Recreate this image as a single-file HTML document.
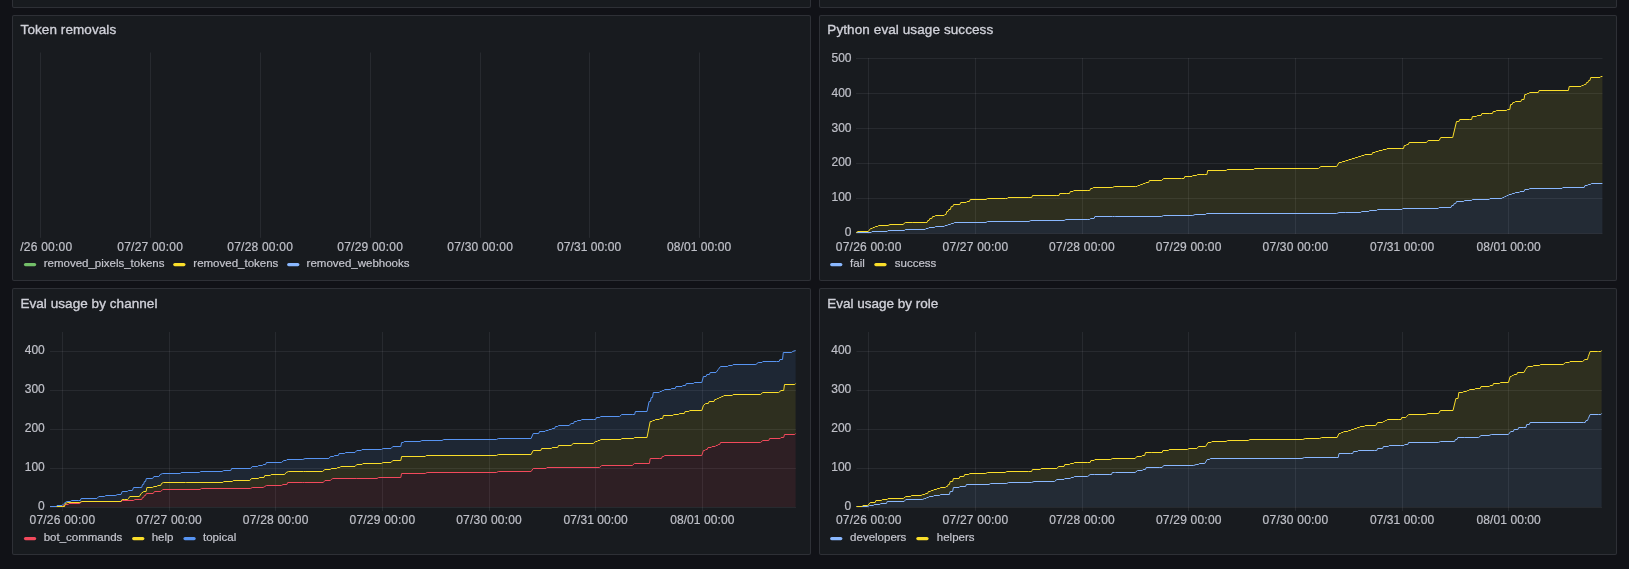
<!DOCTYPE html>
<html><head><meta charset="utf-8"><title>Grafana</title>
<style>
html,body{margin:0;padding:0;}
body{width:1629px;height:569px;overflow:hidden;background:#111217;position:relative;font-family:"Liberation Sans",sans-serif;}
.p{position:absolute;box-sizing:border-box;background:#181b1f;border:1px solid rgba(204,204,220,0.12);border-radius:2px;}
svg{position:absolute;left:0;top:0;will-change:transform;}
svg text{font-family:"Liberation Sans",sans-serif;}
</style></head><body>
<div class="p" style="left:12px;top:-100px;width:799px;height:108px"></div>
<div class="p" style="left:819px;top:-100px;width:798px;height:108px"></div>
<div class="p" style="left:12px;top:15px;width:799px;height:266px"></div>
<div class="p" style="left:819px;top:15px;width:798px;height:266px"></div>
<div class="p" style="left:12px;top:288px;width:799px;height:267px"></div>
<div class="p" style="left:819px;top:288px;width:798px;height:267px"></div>
<svg width="1629" height="569" viewBox="0 0 1629 569">
<defs><clipPath id="tlc"><rect x="21" y="0" width="780" height="569"/></clipPath></defs>

<text x="20.6" y="34" fill="#d0d1d9" stroke="#d0d1d9" stroke-width="0.35" font-size="13.5" textLength="95.6" lengthAdjust="spacing">Token removals</text>
<text x="827.3" y="34" fill="#d0d1d9" stroke="#d0d1d9" stroke-width="0.35" font-size="13.5" textLength="165.9" lengthAdjust="spacing">Python eval usage success</text>
<text x="20.4" y="307.9" fill="#d0d1d9" stroke="#d0d1d9" stroke-width="0.35" font-size="13.5" textLength="137" lengthAdjust="spacing">Eval usage by channel</text>
<text x="827.3" y="307.9" fill="#d0d1d9" stroke="#d0d1d9" stroke-width="0.35" font-size="13.5" textLength="110.9" lengthAdjust="spacing">Eval usage by role</text>
<line x1="40.5" y1="52.5" x2="40.5" y2="237.8" stroke="rgba(204,204,220,0.085)" stroke-width="1"/>
<line x1="150.5" y1="52.5" x2="150.5" y2="237.8" stroke="rgba(204,204,220,0.085)" stroke-width="1"/>
<line x1="260.5" y1="52.5" x2="260.5" y2="237.8" stroke="rgba(204,204,220,0.085)" stroke-width="1"/>
<line x1="370.5" y1="52.5" x2="370.5" y2="237.8" stroke="rgba(204,204,220,0.085)" stroke-width="1"/>
<line x1="480.5" y1="52.5" x2="480.5" y2="237.8" stroke="rgba(204,204,220,0.085)" stroke-width="1"/>
<line x1="589.5" y1="52.5" x2="589.5" y2="237.8" stroke="rgba(204,204,220,0.085)" stroke-width="1"/>
<line x1="699.5" y1="52.5" x2="699.5" y2="237.8" stroke="rgba(204,204,220,0.085)" stroke-width="1"/>
<g clip-path="url(#tlc)">
<text x="150.1" y="250.5" fill="#bfc0c8" stroke="#bfc0c8" stroke-width="0.2" font-size="12" text-anchor="middle" textLength="65.6" lengthAdjust="spacing">07/27 00:00</text>
<text x="260.1" y="250.5" fill="#bfc0c8" stroke="#bfc0c8" stroke-width="0.2" font-size="12" text-anchor="middle" textLength="65.6" lengthAdjust="spacing">07/28 00:00</text>
<text x="370.1" y="250.5" fill="#bfc0c8" stroke="#bfc0c8" stroke-width="0.2" font-size="12" text-anchor="middle" textLength="65.6" lengthAdjust="spacing">07/29 00:00</text>
<text x="480.1" y="250.5" fill="#bfc0c8" stroke="#bfc0c8" stroke-width="0.2" font-size="12" text-anchor="middle" textLength="65.6" lengthAdjust="spacing">07/30 00:00</text>
<text x="589.1" y="250.5" fill="#bfc0c8" stroke="#bfc0c8" stroke-width="0.2" font-size="12" text-anchor="middle" textLength="64.2" lengthAdjust="spacing">07/31 00:00</text>
<text x="699.1" y="250.5" fill="#bfc0c8" stroke="#bfc0c8" stroke-width="0.2" font-size="12" text-anchor="middle" textLength="64.2" lengthAdjust="spacing">08/01 00:00</text>
</g>
<text x="20.2" y="250.5" fill="#bfc0c8" stroke="#bfc0c8" stroke-width="0.2" font-size="12" textLength="52" lengthAdjust="spacing">/26 00:00</text>
<line x1="856" y1="233.5" x2="1602.5" y2="233.5" stroke="rgba(204,204,220,0.085)" stroke-width="1"/>
<line x1="856" y1="198.5" x2="1602.5" y2="198.5" stroke="rgba(204,204,220,0.085)" stroke-width="1"/>
<line x1="856" y1="163.5" x2="1602.5" y2="163.5" stroke="rgba(204,204,220,0.085)" stroke-width="1"/>
<line x1="856" y1="128.5" x2="1602.5" y2="128.5" stroke="rgba(204,204,220,0.085)" stroke-width="1"/>
<line x1="856" y1="93.5" x2="1602.5" y2="93.5" stroke="rgba(204,204,220,0.085)" stroke-width="1"/>
<line x1="856" y1="58.5" x2="1602.5" y2="58.5" stroke="rgba(204,204,220,0.085)" stroke-width="1"/>
<line x1="868.5" y1="58" x2="868.5" y2="234" stroke="rgba(204,204,220,0.085)" stroke-width="1"/>
<line x1="975.5" y1="58" x2="975.5" y2="234" stroke="rgba(204,204,220,0.085)" stroke-width="1"/>
<line x1="1082.5" y1="58" x2="1082.5" y2="234" stroke="rgba(204,204,220,0.085)" stroke-width="1"/>
<line x1="1188.5" y1="58" x2="1188.5" y2="234" stroke="rgba(204,204,220,0.085)" stroke-width="1"/>
<line x1="1295.5" y1="58" x2="1295.5" y2="234" stroke="rgba(204,204,220,0.085)" stroke-width="1"/>
<line x1="1402.5" y1="58" x2="1402.5" y2="234" stroke="rgba(204,204,220,0.085)" stroke-width="1"/>
<line x1="1508.5" y1="58" x2="1508.5" y2="234" stroke="rgba(204,204,220,0.085)" stroke-width="1"/>
<g>
<text x="868.6" y="250.5" fill="#bfc0c8" stroke="#bfc0c8" stroke-width="0.2" font-size="12" text-anchor="middle" textLength="65.6" lengthAdjust="spacing">07/26 00:00</text>
<text x="975.3" y="250.5" fill="#bfc0c8" stroke="#bfc0c8" stroke-width="0.2" font-size="12" text-anchor="middle" textLength="65.6" lengthAdjust="spacing">07/27 00:00</text>
<text x="1081.9" y="250.5" fill="#bfc0c8" stroke="#bfc0c8" stroke-width="0.2" font-size="12" text-anchor="middle" textLength="65.6" lengthAdjust="spacing">07/28 00:00</text>
<text x="1188.6" y="250.5" fill="#bfc0c8" stroke="#bfc0c8" stroke-width="0.2" font-size="12" text-anchor="middle" textLength="65.6" lengthAdjust="spacing">07/29 00:00</text>
<text x="1295.3" y="250.5" fill="#bfc0c8" stroke="#bfc0c8" stroke-width="0.2" font-size="12" text-anchor="middle" textLength="65.6" lengthAdjust="spacing">07/30 00:00</text>
<text x="1402" y="250.5" fill="#bfc0c8" stroke="#bfc0c8" stroke-width="0.2" font-size="12" text-anchor="middle" textLength="64.2" lengthAdjust="spacing">07/31 00:00</text>
<text x="1508.6" y="250.5" fill="#bfc0c8" stroke="#bfc0c8" stroke-width="0.2" font-size="12" text-anchor="middle" textLength="64.2" lengthAdjust="spacing">08/01 00:00</text>
</g>
<text x="851.5" y="236.2" fill="#bfc0c8" stroke="#bfc0c8" stroke-width="0.2" font-size="12" text-anchor="end">0</text>
<text x="851.5" y="201.3" fill="#bfc0c8" stroke="#bfc0c8" stroke-width="0.2" font-size="12" text-anchor="end">100</text>
<text x="851.5" y="166.4" fill="#bfc0c8" stroke="#bfc0c8" stroke-width="0.2" font-size="12" text-anchor="end">200</text>
<text x="851.5" y="131.5" fill="#bfc0c8" stroke="#bfc0c8" stroke-width="0.2" font-size="12" text-anchor="end">300</text>
<text x="851.5" y="96.6" fill="#bfc0c8" stroke="#bfc0c8" stroke-width="0.2" font-size="12" text-anchor="end">400</text>
<text x="851.5" y="61.7" fill="#bfc0c8" stroke="#bfc0c8" stroke-width="0.2" font-size="12" text-anchor="end">500</text>
<line x1="50" y1="507.5" x2="796" y2="507.5" stroke="rgba(204,204,220,0.085)" stroke-width="1"/>
<line x1="50" y1="468.5" x2="796" y2="468.5" stroke="rgba(204,204,220,0.085)" stroke-width="1"/>
<line x1="50" y1="429.5" x2="796" y2="429.5" stroke="rgba(204,204,220,0.085)" stroke-width="1"/>
<line x1="50" y1="390.5" x2="796" y2="390.5" stroke="rgba(204,204,220,0.085)" stroke-width="1"/>
<line x1="50" y1="351.5" x2="796" y2="351.5" stroke="rgba(204,204,220,0.085)" stroke-width="1"/>
<line x1="62.5" y1="332" x2="62.5" y2="511" stroke="rgba(204,204,220,0.085)" stroke-width="1"/>
<line x1="169.5" y1="332" x2="169.5" y2="511" stroke="rgba(204,204,220,0.085)" stroke-width="1"/>
<line x1="275.5" y1="332" x2="275.5" y2="511" stroke="rgba(204,204,220,0.085)" stroke-width="1"/>
<line x1="382.5" y1="332" x2="382.5" y2="511" stroke="rgba(204,204,220,0.085)" stroke-width="1"/>
<line x1="489.5" y1="332" x2="489.5" y2="511" stroke="rgba(204,204,220,0.085)" stroke-width="1"/>
<line x1="595.5" y1="332" x2="595.5" y2="511" stroke="rgba(204,204,220,0.085)" stroke-width="1"/>
<line x1="702.5" y1="332" x2="702.5" y2="511" stroke="rgba(204,204,220,0.085)" stroke-width="1"/>
<g>
<text x="62.3" y="524.3" fill="#bfc0c8" stroke="#bfc0c8" stroke-width="0.2" font-size="12" text-anchor="middle" textLength="65.6" lengthAdjust="spacing">07/26 00:00</text>
<text x="169" y="524.3" fill="#bfc0c8" stroke="#bfc0c8" stroke-width="0.2" font-size="12" text-anchor="middle" textLength="65.6" lengthAdjust="spacing">07/27 00:00</text>
<text x="275.6" y="524.3" fill="#bfc0c8" stroke="#bfc0c8" stroke-width="0.2" font-size="12" text-anchor="middle" textLength="65.6" lengthAdjust="spacing">07/28 00:00</text>
<text x="382.3" y="524.3" fill="#bfc0c8" stroke="#bfc0c8" stroke-width="0.2" font-size="12" text-anchor="middle" textLength="65.6" lengthAdjust="spacing">07/29 00:00</text>
<text x="489" y="524.3" fill="#bfc0c8" stroke="#bfc0c8" stroke-width="0.2" font-size="12" text-anchor="middle" textLength="65.6" lengthAdjust="spacing">07/30 00:00</text>
<text x="595.6" y="524.3" fill="#bfc0c8" stroke="#bfc0c8" stroke-width="0.2" font-size="12" text-anchor="middle" textLength="64.2" lengthAdjust="spacing">07/31 00:00</text>
<text x="702.3" y="524.3" fill="#bfc0c8" stroke="#bfc0c8" stroke-width="0.2" font-size="12" text-anchor="middle" textLength="64.2" lengthAdjust="spacing">08/01 00:00</text>
</g>
<text x="44.8" y="510" fill="#bfc0c8" stroke="#bfc0c8" stroke-width="0.2" font-size="12" text-anchor="end">0</text>
<text x="44.8" y="471.1" fill="#bfc0c8" stroke="#bfc0c8" stroke-width="0.2" font-size="12" text-anchor="end">100</text>
<text x="44.8" y="432.2" fill="#bfc0c8" stroke="#bfc0c8" stroke-width="0.2" font-size="12" text-anchor="end">200</text>
<text x="44.8" y="393.3" fill="#bfc0c8" stroke="#bfc0c8" stroke-width="0.2" font-size="12" text-anchor="end">300</text>
<text x="44.8" y="354.4" fill="#bfc0c8" stroke="#bfc0c8" stroke-width="0.2" font-size="12" text-anchor="end">400</text>
<line x1="856.5" y1="507.5" x2="1602" y2="507.5" stroke="rgba(204,204,220,0.085)" stroke-width="1"/>
<line x1="856.5" y1="468.5" x2="1602" y2="468.5" stroke="rgba(204,204,220,0.085)" stroke-width="1"/>
<line x1="856.5" y1="429.5" x2="1602" y2="429.5" stroke="rgba(204,204,220,0.085)" stroke-width="1"/>
<line x1="856.5" y1="390.5" x2="1602" y2="390.5" stroke="rgba(204,204,220,0.085)" stroke-width="1"/>
<line x1="856.5" y1="351.5" x2="1602" y2="351.5" stroke="rgba(204,204,220,0.085)" stroke-width="1"/>
<line x1="868.5" y1="332" x2="868.5" y2="511" stroke="rgba(204,204,220,0.085)" stroke-width="1"/>
<line x1="975.5" y1="332" x2="975.5" y2="511" stroke="rgba(204,204,220,0.085)" stroke-width="1"/>
<line x1="1082.5" y1="332" x2="1082.5" y2="511" stroke="rgba(204,204,220,0.085)" stroke-width="1"/>
<line x1="1188.5" y1="332" x2="1188.5" y2="511" stroke="rgba(204,204,220,0.085)" stroke-width="1"/>
<line x1="1295.5" y1="332" x2="1295.5" y2="511" stroke="rgba(204,204,220,0.085)" stroke-width="1"/>
<line x1="1402.5" y1="332" x2="1402.5" y2="511" stroke="rgba(204,204,220,0.085)" stroke-width="1"/>
<line x1="1508.5" y1="332" x2="1508.5" y2="511" stroke="rgba(204,204,220,0.085)" stroke-width="1"/>
<g>
<text x="868.7" y="524.3" fill="#bfc0c8" stroke="#bfc0c8" stroke-width="0.2" font-size="12" text-anchor="middle" textLength="65.6" lengthAdjust="spacing">07/26 00:00</text>
<text x="975.4" y="524.3" fill="#bfc0c8" stroke="#bfc0c8" stroke-width="0.2" font-size="12" text-anchor="middle" textLength="65.6" lengthAdjust="spacing">07/27 00:00</text>
<text x="1082" y="524.3" fill="#bfc0c8" stroke="#bfc0c8" stroke-width="0.2" font-size="12" text-anchor="middle" textLength="65.6" lengthAdjust="spacing">07/28 00:00</text>
<text x="1188.7" y="524.3" fill="#bfc0c8" stroke="#bfc0c8" stroke-width="0.2" font-size="12" text-anchor="middle" textLength="65.6" lengthAdjust="spacing">07/29 00:00</text>
<text x="1295.4" y="524.3" fill="#bfc0c8" stroke="#bfc0c8" stroke-width="0.2" font-size="12" text-anchor="middle" textLength="65.6" lengthAdjust="spacing">07/30 00:00</text>
<text x="1402" y="524.3" fill="#bfc0c8" stroke="#bfc0c8" stroke-width="0.2" font-size="12" text-anchor="middle" textLength="64.2" lengthAdjust="spacing">07/31 00:00</text>
<text x="1508.7" y="524.3" fill="#bfc0c8" stroke="#bfc0c8" stroke-width="0.2" font-size="12" text-anchor="middle" textLength="64.2" lengthAdjust="spacing">08/01 00:00</text>
</g>
<text x="851.3" y="510" fill="#bfc0c8" stroke="#bfc0c8" stroke-width="0.2" font-size="12" text-anchor="end">0</text>
<text x="851.3" y="471.1" fill="#bfc0c8" stroke="#bfc0c8" stroke-width="0.2" font-size="12" text-anchor="end">100</text>
<text x="851.3" y="432.2" fill="#bfc0c8" stroke="#bfc0c8" stroke-width="0.2" font-size="12" text-anchor="end">200</text>
<text x="851.3" y="393.3" fill="#bfc0c8" stroke="#bfc0c8" stroke-width="0.2" font-size="12" text-anchor="end">300</text>
<text x="851.3" y="354.4" fill="#bfc0c8" stroke="#bfc0c8" stroke-width="0.2" font-size="12" text-anchor="end">400</text>
<polygon points="856.3,232.5 858,231.5 868.2,231.5 870.6,228.5 872.2,228.5 873,227.5 874.5,227.5 875.3,226.5 877.7,226.5 878.5,225.5 888,225.5 890,224.5 903,224.5 905.3,222.5 912.2,222.5 913,222.5 925.9,222.5 927,222.5 927.8,220.5 929,220.5 929.8,218.5 931.8,218.5 932.6,216.5 934.6,216.5 935.4,215.5 944.1,215.5 944.9,214.5 946,214.5 946.8,211.5 948,211.5 948.8,209.5 950.4,209.5 951.2,206.5 952.8,206.5 953.6,204.5 959.9,204.5 960.7,202.5 966.2,202.5 967,201.5 969.4,201.5 970.2,199.5 986,199.5 987.5,198.5 1005.3,198.5 1007.2,198.5 1008,197.5 1028.1,197.5 1031.7,197.5 1032.5,195.5 1056.2,195.5 1059,195.5 1059.8,193.5 1066.8,193.5 1069.5,193.5 1070.3,191.5 1073,191.5 1073.8,190.5 1087.9,190.5 1089.8,190.5 1090.6,188.5 1092.4,188.5 1093.2,187.5 1112.5,187.5 1114.3,186.5 1135.3,186.5 1137.1,186.5 1137.9,185.5 1139.8,185.5 1140.6,184.5 1142.5,184.5 1143.2,183.5 1145.1,183.5 1145.9,182.5 1148.6,182.5 1149.4,180.5 1161.7,180.5 1163.5,178.5 1181.4,178.5 1184,178.5 1184.8,176.5 1192,176.5 1192.8,175.5 1196.6,175.5 1197.4,174.5 1204.3,174.5 1206.9,174.5 1207.7,170.5 1226.3,170.5 1227.1,169.5 1253.7,169.5 1254.5,168.5 1318.5,168.5 1320.8,166.5 1336.7,166.5 1339,162.5 1341.6,162.5 1342.4,161.5 1345,161.5 1345.8,160.5 1348.1,160.5 1348.9,159.5 1351.3,159.5 1352.1,158.5 1354.5,158.5 1355.3,157.5 1357.7,157.5 1358.5,156.5 1360.9,156.5 1361.7,155.5 1364,155.5 1364.8,154.5 1371.9,154.5 1372.7,152.5 1375,152.5 1375.8,151.5 1378.2,151.5 1379,150.5 1382.2,150.5 1383,149.5 1386.2,149.5 1387,148.5 1401.2,148.5 1403.5,148.5 1404.3,145.5 1405.9,145.5 1406.7,144.5 1408.3,144.5 1409.1,142.5 1426.5,142.5 1428.1,140.5 1439.1,140.5 1440.7,137.5 1452.7,137.5 1456.5,121.5 1458.9,121.5 1459.7,119.5 1469.2,119.5 1471.6,119.5 1472.4,116.5 1476.4,116.5 1477.2,115.5 1481.1,115.5 1481.9,113.5 1489.2,113.5 1490,113.5 1492.4,113.5 1493.2,111.5 1495.5,111.5 1496.3,110.5 1506.6,110.5 1507.4,109.5 1509.8,109.5 1510.6,104.5 1512.1,104.5 1512.9,102.5 1514.5,102.5 1515.3,101.5 1520.9,101.5 1521.7,99.5 1524,99.5 1524.8,94.5 1526.4,94.5 1527.2,93.5 1528.8,93.5 1529.6,92.5 1538.3,92.5 1539.1,90.5 1566,90.5 1568.4,90.5 1569.2,86.5 1581,86.5 1581.8,85.5 1583.4,85.5 1584.2,84.5 1585.8,84.5 1586.6,82.5 1587.9,82.5 1588.7,80.5 1589.9,80.5 1590.7,77.5 1600,77.5 1600.8,76.5 1602.4,76.5 1602.4,183.5 1591.3,183.5 1590.5,184.5 1588.2,184.5 1587.4,185.5 1585,185.5 1584.2,187.5 1562.8,187.5 1562,188.5 1529.6,188.5 1528.8,189.5 1524.8,189.5 1524,191.5 1520,191.5 1519.2,192.5 1515.3,192.5 1514.5,193.5 1512.2,193.5 1511.4,194.5 1509,194.5 1508.2,195.5 1506.9,195.5 1506.1,196.5 1504.8,196.5 1504,197.5 1502.7,197.5 1501.9,198.5 1490,198.5 1489.2,199.5 1472.4,199.5 1471.6,200.5 1464.5,200.5 1463.7,201.5 1456.5,201.5 1455.7,203.5 1454.2,203.5 1453.4,205.5 1451.8,205.5 1451,207.5 1439.1,207.5 1438.3,208.5 1402.8,208.5 1402,209.5 1377.5,209.5 1376.7,210.5 1369.5,210.5 1368.8,211.5 1361.6,211.5 1360.8,212.5 1345.8,212.5 1339,212.5 1336.7,213.5 1206.5,213.5 1205.7,214.5 1195.1,214.5 1192.8,215.5 1163.5,215.5 1161.7,216.5 1115.1,216.5 1114.3,216.5 1112.5,216.5 1094.9,216.5 1094.1,218.5 1090.5,218.5 1089.7,219.5 1087.9,219.5 1065.9,219.5 1064.2,220.5 1030.8,220.5 1029,221.5 987.5,221.5 986,222.5 954.3,222.5 953.5,223.5 951.2,223.5 950.4,224.5 948.1,224.5 947.3,225.5 945,225.5 944.2,226.5 935.4,226.5 934.6,227.5 929,227.5 928.2,228.5 926,228.5 925.2,229.5 905.3,229.5 904.5,230.5 888,230.5 887.2,231.5 872,231.5 871.2,232.5 869,232.5 856.3,232.5" fill="#FADE2A" fill-opacity="0.1"/>
<polygon points="856.3,232.5 869,232.5 871.2,232.5 872,231.5 887.2,231.5 888,230.5 904.5,230.5 905.3,229.5 925.2,229.5 926,228.5 928.2,228.5 929,227.5 934.6,227.5 935.4,226.5 944.2,226.5 945,225.5 947.3,225.5 948.1,224.5 950.4,224.5 951.2,223.5 953.5,223.5 954.3,222.5 986,222.5 987.5,221.5 1029,221.5 1030.8,220.5 1064.2,220.5 1065.9,219.5 1087.9,219.5 1089.7,219.5 1090.5,218.5 1094.1,218.5 1094.9,216.5 1112.5,216.5 1114.3,216.5 1115.1,216.5 1161.7,216.5 1163.5,215.5 1192.8,215.5 1195.1,214.5 1205.7,214.5 1206.5,213.5 1336.7,213.5 1339,212.5 1345.8,212.5 1360.8,212.5 1361.6,211.5 1368.8,211.5 1369.5,210.5 1376.7,210.5 1377.5,209.5 1402,209.5 1402.8,208.5 1438.3,208.5 1439.1,207.5 1451,207.5 1451.8,205.5 1453.4,205.5 1454.2,203.5 1455.7,203.5 1456.5,201.5 1463.7,201.5 1464.5,200.5 1471.6,200.5 1472.4,199.5 1489.2,199.5 1490,198.5 1501.9,198.5 1502.7,197.5 1504,197.5 1504.8,196.5 1506.1,196.5 1506.9,195.5 1508.2,195.5 1509,194.5 1511.4,194.5 1512.2,193.5 1514.5,193.5 1515.3,192.5 1519.2,192.5 1520,191.5 1524,191.5 1524.8,189.5 1528.8,189.5 1529.6,188.5 1562,188.5 1562.8,187.5 1584.2,187.5 1585,185.5 1587.4,185.5 1588.2,184.5 1590.5,184.5 1591.3,183.5 1602.4,183.5 1602.4,233.5 856.3,233.5" fill="#8AB8FF" fill-opacity="0.1"/>
<polyline points="856.3,232.5 869,232.5 871.2,232.5 872,231.5 887.2,231.5 888,230.5 904.5,230.5 905.3,229.5 925.2,229.5 926,228.5 928.2,228.5 929,227.5 934.6,227.5 935.4,226.5 944.2,226.5 945,225.5 947.3,225.5 948.1,224.5 950.4,224.5 951.2,223.5 953.5,223.5 954.3,222.5 986,222.5 987.5,221.5 1029,221.5 1030.8,220.5 1064.2,220.5 1065.9,219.5 1087.9,219.5 1089.7,219.5 1090.5,218.5 1094.1,218.5 1094.9,216.5 1112.5,216.5 1114.3,216.5 1115.1,216.5 1161.7,216.5 1163.5,215.5 1192.8,215.5 1195.1,214.5 1205.7,214.5 1206.5,213.5 1336.7,213.5 1339,212.5 1345.8,212.5 1360.8,212.5 1361.6,211.5 1368.8,211.5 1369.5,210.5 1376.7,210.5 1377.5,209.5 1402,209.5 1402.8,208.5 1438.3,208.5 1439.1,207.5 1451,207.5 1451.8,205.5 1453.4,205.5 1454.2,203.5 1455.7,203.5 1456.5,201.5 1463.7,201.5 1464.5,200.5 1471.6,200.5 1472.4,199.5 1489.2,199.5 1490,198.5 1501.9,198.5 1502.7,197.5 1504,197.5 1504.8,196.5 1506.1,196.5 1506.9,195.5 1508.2,195.5 1509,194.5 1511.4,194.5 1512.2,193.5 1514.5,193.5 1515.3,192.5 1519.2,192.5 1520,191.5 1524,191.5 1524.8,189.5 1528.8,189.5 1529.6,188.5 1562,188.5 1562.8,187.5 1584.2,187.5 1585,185.5 1587.4,185.5 1588.2,184.5 1590.5,184.5 1591.3,183.5 1602.4,183.5" fill="none" stroke="#8AB8FF" stroke-width="1" stroke-linejoin="miter"/>
<polyline points="856.3,232.5 858,231.5 868.2,231.5 870.6,228.5 872.2,228.5 873,227.5 874.5,227.5 875.3,226.5 877.7,226.5 878.5,225.5 888,225.5 890,224.5 903,224.5 905.3,222.5 912.2,222.5 913,222.5 925.9,222.5 927,222.5 927.8,220.5 929,220.5 929.8,218.5 931.8,218.5 932.6,216.5 934.6,216.5 935.4,215.5 944.1,215.5 944.9,214.5 946,214.5 946.8,211.5 948,211.5 948.8,209.5 950.4,209.5 951.2,206.5 952.8,206.5 953.6,204.5 959.9,204.5 960.7,202.5 966.2,202.5 967,201.5 969.4,201.5 970.2,199.5 986,199.5 987.5,198.5 1005.3,198.5 1007.2,198.5 1008,197.5 1028.1,197.5 1031.7,197.5 1032.5,195.5 1056.2,195.5 1059,195.5 1059.8,193.5 1066.8,193.5 1069.5,193.5 1070.3,191.5 1073,191.5 1073.8,190.5 1087.9,190.5 1089.8,190.5 1090.6,188.5 1092.4,188.5 1093.2,187.5 1112.5,187.5 1114.3,186.5 1135.3,186.5 1137.1,186.5 1137.9,185.5 1139.8,185.5 1140.6,184.5 1142.5,184.5 1143.2,183.5 1145.1,183.5 1145.9,182.5 1148.6,182.5 1149.4,180.5 1161.7,180.5 1163.5,178.5 1181.4,178.5 1184,178.5 1184.8,176.5 1192,176.5 1192.8,175.5 1196.6,175.5 1197.4,174.5 1204.3,174.5 1206.9,174.5 1207.7,170.5 1226.3,170.5 1227.1,169.5 1253.7,169.5 1254.5,168.5 1318.5,168.5 1320.8,166.5 1336.7,166.5 1339,162.5 1341.6,162.5 1342.4,161.5 1345,161.5 1345.8,160.5 1348.1,160.5 1348.9,159.5 1351.3,159.5 1352.1,158.5 1354.5,158.5 1355.3,157.5 1357.7,157.5 1358.5,156.5 1360.9,156.5 1361.7,155.5 1364,155.5 1364.8,154.5 1371.9,154.5 1372.7,152.5 1375,152.5 1375.8,151.5 1378.2,151.5 1379,150.5 1382.2,150.5 1383,149.5 1386.2,149.5 1387,148.5 1401.2,148.5 1403.5,148.5 1404.3,145.5 1405.9,145.5 1406.7,144.5 1408.3,144.5 1409.1,142.5 1426.5,142.5 1428.1,140.5 1439.1,140.5 1440.7,137.5 1452.7,137.5 1456.5,121.5 1458.9,121.5 1459.7,119.5 1469.2,119.5 1471.6,119.5 1472.4,116.5 1476.4,116.5 1477.2,115.5 1481.1,115.5 1481.9,113.5 1489.2,113.5 1490,113.5 1492.4,113.5 1493.2,111.5 1495.5,111.5 1496.3,110.5 1506.6,110.5 1507.4,109.5 1509.8,109.5 1510.6,104.5 1512.1,104.5 1512.9,102.5 1514.5,102.5 1515.3,101.5 1520.9,101.5 1521.7,99.5 1524,99.5 1524.8,94.5 1526.4,94.5 1527.2,93.5 1528.8,93.5 1529.6,92.5 1538.3,92.5 1539.1,90.5 1566,90.5 1568.4,90.5 1569.2,86.5 1581,86.5 1581.8,85.5 1583.4,85.5 1584.2,84.5 1585.8,84.5 1586.6,82.5 1587.9,82.5 1588.7,80.5 1589.9,80.5 1590.7,77.5 1600,77.5 1600.8,76.5 1602.4,76.5" fill="none" stroke="#FADE2A" stroke-width="1" stroke-linejoin="miter"/>
<polygon points="50.1,506.5 56.4,506.5 57,505.5 62.1,505.5 64,503.5 66.5,501.5 70.3,501.5 71.6,500.5 78.5,500.5 80.3,500.5 81.1,498.5 96.9,498.5 98.8,496.5 104.5,496.5 105.8,495.5 115.9,495.5 117.2,494.5 121,494.5 122.2,491.5 127.3,491.5 128.5,490.5 132.3,490.5 133.6,487.5 139.9,487.5 141.7,487.5 142.5,484.5 143.6,484.5 144.4,481.5 145.5,481.5 146.3,478.5 152.6,478.5 153.9,476.5 158.9,476.5 160.2,474.5 162.7,473.5 180.4,473.5 181.1,472.5 199.4,472.5 200.7,471.5 222.1,471.5 223.7,470.5 230.8,470.5 231.6,468.5 250.6,468.5 252.2,466.5 257.7,466.5 258.5,465.5 262.4,465.5 263.2,464.5 265.6,464.5 266.4,462.5 281.4,462.5 283.8,460.5 286.2,460.5 287,459.5 302.8,459.5 305.1,458.5 328.9,458.5 330.4,456.5 333.6,456.5 334.4,455.5 338.3,455.5 339.1,453.5 344.7,453.5 345.5,452.5 355,452.5 356.8,450.5 361.2,450.5 362,449.5 381.4,449.5 383.1,448.5 391,448.5 392.8,446.5 399,446.5 400.8,446.5 401.6,442.5 403.4,442.5 404.2,441.5 420,441.5 421.8,440.5 442,440.5 443.8,439.5 496.5,439.5 498.3,438.5 510,438.5 531.1,438.5 533.2,433.5 538.7,433.5 539.5,431.5 545,431.5 545.8,430.5 548.2,430.5 549,429.5 551.4,429.5 552.2,428.5 554.6,428.5 555.4,426.5 557.7,426.5 558.5,425.5 569,425.5 571.1,423.5 573.5,423.5 574.3,421.5 576.7,421.5 577.5,420.5 580.9,420.5 581.7,419.5 593.3,419.5 595.6,419.5 596.4,417.5 599.8,417.5 600.6,416.5 619.6,416.5 621.7,414.5 632.3,414.5 634.6,414.5 635.4,411.5 647,411.5 649.1,401.5 650.4,401.5 651.2,397.5 652.5,397.5 653.3,392.5 659.2,392.5 660,391.5 661.5,391.5 662.3,390.5 663.8,390.5 664.6,389.5 670.6,389.5 671.4,388.5 675.2,388.5 676,386.5 682,386.5 682.8,385.5 685.5,385.5 686.3,383.5 693.5,383.5 694.3,382.5 701.8,382.5 703.4,376.5 706,376.5 706.8,374.5 709.4,374.5 710.2,372.5 716,372.5 718.2,369.5 720.5,366.5 727.7,366.5 728.5,365.5 732.3,365.5 733.1,364.5 755.9,364.5 758.2,362.5 762,362.5 762.8,361.5 776.5,361.5 779.1,361.5 779.9,359.5 782.5,359.5 783.3,352.5 791.7,352.5 792.5,351.5 795.6,350.5 795.6,383.5 794.8,384.5 784.5,384.5 783.7,390.5 781,390.5 778.7,392.5 762.8,392.5 760.5,394.5 733.1,394.5 732.3,395.5 723.9,395.5 723.1,396.5 721.6,396.5 720.9,397.5 719.4,397.5 718.6,398.5 717.1,398.5 716.3,399.5 714.8,399.5 714,401.5 709.1,401.5 708.3,403.5 705.7,403.5 703.4,405.5 701.8,410.5 689.7,410.5 688.9,411.5 685.1,411.5 684.3,413.5 679.4,413.5 678.6,414.5 673.7,414.5 672.9,415.5 663.4,415.5 662.6,418.5 660,418.5 659.2,419.5 655.4,419.5 654.6,420.5 652.8,420.5 652,421.5 650.2,421.5 647,437.5 634.4,437.5 633.6,438.5 621.7,438.5 620.9,439.5 600.6,439.5 599.8,440.5 598,440.5 597.2,441.5 595.4,441.5 593.3,443.5 573.2,443.5 571.1,445.5 558.5,445.5 557.7,447.5 552.2,447.5 551.4,448.5 541.6,448.5 540.8,450.5 533.2,450.5 531.1,454.5 498.3,454.5 496.5,455.5 426.2,455.5 425.3,456.5 401.6,456.5 400.8,460.5 399,460.5 392.8,460.5 391,462.5 383.1,462.5 381.4,463.5 362.9,463.5 362.1,464.5 356.8,464.5 355,466.5 340.7,466.5 339.9,467.5 337.5,467.5 336.7,468.5 331.2,468.5 330.4,469.5 324.9,469.5 322.5,471.5 305.1,471.5 303.6,471.5 288.5,471.5 286.2,472.5 284.6,474.5 271.1,474.5 270.3,475.5 264.8,475.5 264,477.5 259.3,477.5 258.5,478.5 251.4,478.5 249.8,480.5 233.2,480.5 232.4,481.5 223.7,481.5 222.9,482.5 186.1,482.5 185.5,482.5 163.4,482.5 161.5,483.5 160.7,485.5 157.7,485.5 156.9,486.5 153.9,486.5 152.6,487.5 146.9,487.5 146.1,491.5 143.7,491.5 141.2,493.5 139.3,496.5 129.8,496.5 128.5,498.5 127.7,499.5 124.7,499.5 122.2,499.5 121,501.5 81.7,501.5 79.8,502.5 67.8,502.5 65.3,503.5 64.5,506.5 62.7,506.5 56.4,506.5 55.6,506.5 50.1,506.5" fill="#5794F2" fill-opacity="0.1"/>
<polygon points="50.1,506.5 55.6,506.5 56.4,506.5 62.7,506.5 64.5,506.5 65.3,503.5 67.8,502.5 79.8,502.5 81.7,501.5 121,501.5 122.2,499.5 124.7,499.5 127.7,499.5 128.5,498.5 129.8,496.5 139.3,496.5 141.2,493.5 143.7,491.5 146.1,491.5 146.9,487.5 152.6,487.5 153.9,486.5 156.9,486.5 157.7,485.5 160.7,485.5 161.5,483.5 163.4,482.5 185.5,482.5 186.1,482.5 222.9,482.5 223.7,481.5 232.4,481.5 233.2,480.5 249.8,480.5 251.4,478.5 258.5,478.5 259.3,477.5 264,477.5 264.8,475.5 270.3,475.5 271.1,474.5 284.6,474.5 286.2,472.5 288.5,471.5 303.6,471.5 305.1,471.5 322.5,471.5 324.9,469.5 330.4,469.5 331.2,468.5 336.7,468.5 337.5,467.5 339.9,467.5 340.7,466.5 355,466.5 356.8,464.5 362.1,464.5 362.9,463.5 381.4,463.5 383.1,462.5 391,462.5 392.8,460.5 399,460.5 400.8,460.5 401.6,456.5 425.3,456.5 426.2,455.5 496.5,455.5 498.3,454.5 531.1,454.5 533.2,450.5 540.8,450.5 541.6,448.5 551.4,448.5 552.2,447.5 557.7,447.5 558.5,445.5 571.1,445.5 573.2,443.5 593.3,443.5 595.4,441.5 597.2,441.5 598,440.5 599.8,440.5 600.6,439.5 620.9,439.5 621.7,438.5 633.6,438.5 634.4,437.5 647,437.5 650.2,421.5 652,421.5 652.8,420.5 654.6,420.5 655.4,419.5 659.2,419.5 660,418.5 662.6,418.5 663.4,415.5 672.9,415.5 673.7,414.5 678.6,414.5 679.4,413.5 684.3,413.5 685.1,411.5 688.9,411.5 689.7,410.5 701.8,410.5 703.4,405.5 705.7,403.5 708.3,403.5 709.1,401.5 714,401.5 714.8,399.5 716.3,399.5 717.1,398.5 718.6,398.5 719.4,397.5 720.9,397.5 721.6,396.5 723.1,396.5 723.9,395.5 732.3,395.5 733.1,394.5 760.5,394.5 762.8,392.5 778.7,392.5 781,390.5 783.7,390.5 784.5,384.5 794.8,384.5 795.6,383.5 795.6,433.5 794.8,434.5 784.5,434.5 783.7,437.5 781,437.5 780.2,438.5 769.6,438.5 768.8,440.5 762.8,440.5 760.5,442.5 720.5,442.5 719.7,444.5 718.2,444.5 717.5,445.5 716,445.5 715.2,446.5 712,446.5 711.2,447.5 708,447.5 707.2,449.5 705.7,449.5 704.9,450.5 703.4,450.5 701.8,455.5 664.6,455.5 663.8,456.5 662.3,456.5 661.5,458.5 660,458.5 659.2,458.5 650.2,458.5 649.4,463.5 647,463.5 634.4,463.5 632.3,465.5 601.7,465.5 599.6,467.5 546.9,467.5 546.1,468.5 533.2,468.5 531.1,471.5 498.3,471.5 496.5,472.5 427.1,472.5 425.3,473.5 401.6,473.5 400.8,477.5 399,477.5 378.7,477.5 377,478.5 356.8,478.5 355,478.5 332.8,478.5 331.2,479.5 330.4,480.5 324.9,480.5 323.3,482.5 304.3,482.5 302.8,482.5 287.7,482.5 286.9,484.5 283,484.5 281.4,485.5 266.4,485.5 264.8,486.5 263.2,487.5 252.2,487.5 250.6,488.5 201.3,488.5 200.1,489.5 162.7,489.5 160.8,491.5 154.5,491.5 153.2,493.5 146.3,493.5 145.5,495.5 144.4,495.5 143.6,497.5 142.5,497.5 141.7,499.5 139.9,499.5 134.9,499.5 133.6,500.5 122.2,500.5 121,501.5 81.7,501.5 79.8,503.5 69.1,503.5 68.3,504.5 65.3,504.5 64.5,505.5 63.4,505.5 62.6,506.5 61.5,506.5 50.1,506.5" fill="#FADE2A" fill-opacity="0.1"/>
<polygon points="50.1,506.5 61.5,506.5 62.6,506.5 63.4,505.5 64.5,505.5 65.3,504.5 68.3,504.5 69.1,503.5 79.8,503.5 81.7,501.5 121,501.5 122.2,500.5 133.6,500.5 134.9,499.5 139.9,499.5 141.7,499.5 142.5,497.5 143.6,497.5 144.4,495.5 145.5,495.5 146.3,493.5 153.2,493.5 154.5,491.5 160.8,491.5 162.7,489.5 200.1,489.5 201.3,488.5 250.6,488.5 252.2,487.5 263.2,487.5 264.8,486.5 266.4,485.5 281.4,485.5 283,484.5 286.9,484.5 287.7,482.5 302.8,482.5 304.3,482.5 323.3,482.5 324.9,480.5 330.4,480.5 331.2,479.5 332.8,478.5 355,478.5 356.8,478.5 377,478.5 378.7,477.5 399,477.5 400.8,477.5 401.6,473.5 425.3,473.5 427.1,472.5 496.5,472.5 498.3,471.5 531.1,471.5 533.2,468.5 546.1,468.5 546.9,467.5 599.6,467.5 601.7,465.5 632.3,465.5 634.4,463.5 647,463.5 649.4,463.5 650.2,458.5 659.2,458.5 660,458.5 661.5,458.5 662.3,456.5 663.8,456.5 664.6,455.5 701.8,455.5 703.4,450.5 704.9,450.5 705.7,449.5 707.2,449.5 708,447.5 711.2,447.5 712,446.5 715.2,446.5 716,445.5 717.5,445.5 718.2,444.5 719.7,444.5 720.5,442.5 760.5,442.5 762.8,440.5 768.8,440.5 769.6,438.5 780.2,438.5 781,437.5 783.7,437.5 784.5,434.5 794.8,434.5 795.6,433.5 795.6,507 50.1,507" fill="#F2495C" fill-opacity="0.1"/>
<polyline points="50.1,506.5 61.5,506.5 62.6,506.5 63.4,505.5 64.5,505.5 65.3,504.5 68.3,504.5 69.1,503.5 79.8,503.5 81.7,501.5 121,501.5 122.2,500.5 133.6,500.5 134.9,499.5 139.9,499.5 141.7,499.5 142.5,497.5 143.6,497.5 144.4,495.5 145.5,495.5 146.3,493.5 153.2,493.5 154.5,491.5 160.8,491.5 162.7,489.5 200.1,489.5 201.3,488.5 250.6,488.5 252.2,487.5 263.2,487.5 264.8,486.5 266.4,485.5 281.4,485.5 283,484.5 286.9,484.5 287.7,482.5 302.8,482.5 304.3,482.5 323.3,482.5 324.9,480.5 330.4,480.5 331.2,479.5 332.8,478.5 355,478.5 356.8,478.5 377,478.5 378.7,477.5 399,477.5 400.8,477.5 401.6,473.5 425.3,473.5 427.1,472.5 496.5,472.5 498.3,471.5 531.1,471.5 533.2,468.5 546.1,468.5 546.9,467.5 599.6,467.5 601.7,465.5 632.3,465.5 634.4,463.5 647,463.5 649.4,463.5 650.2,458.5 659.2,458.5 660,458.5 661.5,458.5 662.3,456.5 663.8,456.5 664.6,455.5 701.8,455.5 703.4,450.5 704.9,450.5 705.7,449.5 707.2,449.5 708,447.5 711.2,447.5 712,446.5 715.2,446.5 716,445.5 717.5,445.5 718.2,444.5 719.7,444.5 720.5,442.5 760.5,442.5 762.8,440.5 768.8,440.5 769.6,438.5 780.2,438.5 781,437.5 783.7,437.5 784.5,434.5 794.8,434.5 795.6,433.5" fill="none" stroke="#F2495C" stroke-width="1" stroke-linejoin="miter"/>
<polyline points="50.1,506.5 55.6,506.5 56.4,506.5 62.7,506.5 64.5,506.5 65.3,503.5 67.8,502.5 79.8,502.5 81.7,501.5 121,501.5 122.2,499.5 124.7,499.5 127.7,499.5 128.5,498.5 129.8,496.5 139.3,496.5 141.2,493.5 143.7,491.5 146.1,491.5 146.9,487.5 152.6,487.5 153.9,486.5 156.9,486.5 157.7,485.5 160.7,485.5 161.5,483.5 163.4,482.5 185.5,482.5 186.1,482.5 222.9,482.5 223.7,481.5 232.4,481.5 233.2,480.5 249.8,480.5 251.4,478.5 258.5,478.5 259.3,477.5 264,477.5 264.8,475.5 270.3,475.5 271.1,474.5 284.6,474.5 286.2,472.5 288.5,471.5 303.6,471.5 305.1,471.5 322.5,471.5 324.9,469.5 330.4,469.5 331.2,468.5 336.7,468.5 337.5,467.5 339.9,467.5 340.7,466.5 355,466.5 356.8,464.5 362.1,464.5 362.9,463.5 381.4,463.5 383.1,462.5 391,462.5 392.8,460.5 399,460.5 400.8,460.5 401.6,456.5 425.3,456.5 426.2,455.5 496.5,455.5 498.3,454.5 531.1,454.5 533.2,450.5 540.8,450.5 541.6,448.5 551.4,448.5 552.2,447.5 557.7,447.5 558.5,445.5 571.1,445.5 573.2,443.5 593.3,443.5 595.4,441.5 597.2,441.5 598,440.5 599.8,440.5 600.6,439.5 620.9,439.5 621.7,438.5 633.6,438.5 634.4,437.5 647,437.5 650.2,421.5 652,421.5 652.8,420.5 654.6,420.5 655.4,419.5 659.2,419.5 660,418.5 662.6,418.5 663.4,415.5 672.9,415.5 673.7,414.5 678.6,414.5 679.4,413.5 684.3,413.5 685.1,411.5 688.9,411.5 689.7,410.5 701.8,410.5 703.4,405.5 705.7,403.5 708.3,403.5 709.1,401.5 714,401.5 714.8,399.5 716.3,399.5 717.1,398.5 718.6,398.5 719.4,397.5 720.9,397.5 721.6,396.5 723.1,396.5 723.9,395.5 732.3,395.5 733.1,394.5 760.5,394.5 762.8,392.5 778.7,392.5 781,390.5 783.7,390.5 784.5,384.5 794.8,384.5 795.6,383.5" fill="none" stroke="#FADE2A" stroke-width="1" stroke-linejoin="miter"/>
<polyline points="50.1,506.5 56.4,506.5 57,505.5 62.1,505.5 64,503.5 66.5,501.5 70.3,501.5 71.6,500.5 78.5,500.5 80.3,500.5 81.1,498.5 96.9,498.5 98.8,496.5 104.5,496.5 105.8,495.5 115.9,495.5 117.2,494.5 121,494.5 122.2,491.5 127.3,491.5 128.5,490.5 132.3,490.5 133.6,487.5 139.9,487.5 141.7,487.5 142.5,484.5 143.6,484.5 144.4,481.5 145.5,481.5 146.3,478.5 152.6,478.5 153.9,476.5 158.9,476.5 160.2,474.5 162.7,473.5 180.4,473.5 181.1,472.5 199.4,472.5 200.7,471.5 222.1,471.5 223.7,470.5 230.8,470.5 231.6,468.5 250.6,468.5 252.2,466.5 257.7,466.5 258.5,465.5 262.4,465.5 263.2,464.5 265.6,464.5 266.4,462.5 281.4,462.5 283.8,460.5 286.2,460.5 287,459.5 302.8,459.5 305.1,458.5 328.9,458.5 330.4,456.5 333.6,456.5 334.4,455.5 338.3,455.5 339.1,453.5 344.7,453.5 345.5,452.5 355,452.5 356.8,450.5 361.2,450.5 362,449.5 381.4,449.5 383.1,448.5 391,448.5 392.8,446.5 399,446.5 400.8,446.5 401.6,442.5 403.4,442.5 404.2,441.5 420,441.5 421.8,440.5 442,440.5 443.8,439.5 496.5,439.5 498.3,438.5 510,438.5 531.1,438.5 533.2,433.5 538.7,433.5 539.5,431.5 545,431.5 545.8,430.5 548.2,430.5 549,429.5 551.4,429.5 552.2,428.5 554.6,428.5 555.4,426.5 557.7,426.5 558.5,425.5 569,425.5 571.1,423.5 573.5,423.5 574.3,421.5 576.7,421.5 577.5,420.5 580.9,420.5 581.7,419.5 593.3,419.5 595.6,419.5 596.4,417.5 599.8,417.5 600.6,416.5 619.6,416.5 621.7,414.5 632.3,414.5 634.6,414.5 635.4,411.5 647,411.5 649.1,401.5 650.4,401.5 651.2,397.5 652.5,397.5 653.3,392.5 659.2,392.5 660,391.5 661.5,391.5 662.3,390.5 663.8,390.5 664.6,389.5 670.6,389.5 671.4,388.5 675.2,388.5 676,386.5 682,386.5 682.8,385.5 685.5,385.5 686.3,383.5 693.5,383.5 694.3,382.5 701.8,382.5 703.4,376.5 706,376.5 706.8,374.5 709.4,374.5 710.2,372.5 716,372.5 718.2,369.5 720.5,366.5 727.7,366.5 728.5,365.5 732.3,365.5 733.1,364.5 755.9,364.5 758.2,362.5 762,362.5 762.8,361.5 776.5,361.5 779.1,361.5 779.9,359.5 782.5,359.5 783.3,352.5 791.7,352.5 792.5,351.5 795.6,350.5" fill="none" stroke="#5794F2" stroke-width="1" stroke-linejoin="miter"/>
<polygon points="856.5,506.5 862.1,506.5 862.9,505.5 867.8,505.5 870.2,502.5 875.1,502.5 875.9,500.5 881.5,500.5 882.3,499.5 887.2,499.5 888,498.5 903.3,498.5 905.8,496.5 910.6,496.5 911.4,495.5 921.1,495.5 922.7,494.5 924.8,494.5 925.5,493.5 927.6,493.5 928.4,491.5 930.4,491.5 931.2,490.5 933.2,490.5 934,489.5 936.5,489.5 937.2,488.5 939.7,488.5 940.5,487.5 945.4,487.5 946.2,486.5 947.4,486.5 948.2,484.5 949.4,484.5 950.2,481.5 952.6,481.5 953.4,478.5 959.1,478.5 959.9,476.5 963.9,476.5 964.7,474.5 968.8,474.5 969.6,473.5 985.8,473.5 987.4,472.5 1005.2,472.5 1006.8,471.5 1028.5,471.5 1031.6,471.5 1032.4,469.5 1040.3,469.5 1041.1,468.5 1056.9,468.5 1058.5,466.5 1064,466.5 1064.8,464.5 1069.6,464.5 1070.4,463.5 1073.5,463.5 1074.3,462.5 1087.7,462.5 1090.1,462.5 1090.9,460.5 1094.1,460.5 1094.9,459.5 1110.7,459.5 1112.3,458.5 1135.2,458.5 1136.8,456.5 1141.5,456.5 1142.3,455.5 1144.7,455.5 1145.5,452.5 1151,452.5 1151.8,452.5 1155,452.5 1162.1,452.5 1162.9,450.5 1168.4,450.5 1169.2,449.5 1187.4,449.5 1189,448.5 1196.9,448.5 1198.5,446.5 1205.6,446.5 1208,442.5 1211.1,442.5 1211.9,441.5 1226.1,441.5 1227.7,440.5 1248.3,440.5 1249.9,439.5 1302.8,439.5 1305.2,438.5 1319.7,438.5 1321.6,437.5 1337.1,437.5 1339,433.5 1340.6,433.5 1341.4,432.5 1343,432.5 1343.8,431.5 1347.8,431.5 1348.6,430.5 1350.7,430.5 1351.5,429.5 1353.6,429.5 1354.4,428.5 1356.5,428.5 1357.3,427.5 1359.4,427.5 1360.2,426.5 1364.3,426.5 1365.1,425.5 1375.7,425.5 1377.6,422.5 1382.6,422.5 1383.4,421.5 1384.5,421.5 1385.3,420.5 1386.5,420.5 1387.3,419.5 1398.9,419.5 1401,419.5 1401.8,417.5 1405.8,417.5 1406.6,416.5 1408.6,414.5 1425.9,414.5 1427.9,413.5 1438.5,413.5 1440.4,410.5 1453,410.5 1455.9,398.5 1458,398.5 1458.8,392.5 1462.8,392.5 1463.6,391.5 1465,391.5 1466.5,391.5 1467.3,390.5 1468.8,390.5 1469.6,389.5 1474.5,389.5 1475.3,388.5 1480.2,388.5 1481,386.5 1489.3,386.5 1490.1,385.5 1492.7,385.5 1493.5,383.5 1499.6,383.5 1500.4,382.5 1508.4,382.5 1510.2,376.5 1511.4,376.5 1512.2,375.5 1513.3,375.5 1514.1,374.5 1516.7,374.5 1517.5,372.5 1523.9,372.5 1525.5,369.5 1527.8,366.5 1532.7,366.5 1533.5,365.5 1539.6,365.5 1540.4,364.5 1563.2,364.5 1565.5,362.5 1569.2,362.5 1570,361.5 1582.6,361.5 1584.9,359.5 1587.5,359.5 1588.3,356.5 1590.1,351.5 1597.8,351.5 1598.6,351.5 1600.8,351.5 1601.6,350.5 1601.6,413.5 1600.8,414.5 1598.6,414.5 1590.1,414.5 1588.3,418.5 1587.5,420.5 1586,420.5 1585.2,422.5 1583.7,422.5 1530.1,422.5 1529.3,424.5 1526.7,424.5 1525.9,427.5 1523.2,427.5 1518.7,427.5 1517.9,429.5 1514.1,429.5 1513.3,431.5 1510.7,431.5 1508.4,434.5 1491.3,434.5 1489,435.5 1481,435.5 1478.7,437.5 1465,437.5 1464.2,437.5 1457.8,437.5 1457,439.5 1455.4,439.5 1454.6,441.5 1453,441.5 1440.4,441.5 1438.5,442.5 1408.6,442.5 1407.8,444.5 1404.7,444.5 1403.9,445.5 1400.8,445.5 1389.2,445.5 1388.4,446.5 1383.4,446.5 1382.6,448.5 1377.6,448.5 1376.8,450.5 1374.7,450.5 1358.3,450.5 1357.5,451.5 1353.5,451.5 1352.7,453.5 1350.6,453.5 1339,453.5 1338.2,457.5 1336.1,457.5 1310,457.5 1304.4,457.5 1302,458.5 1210.3,458.5 1209.5,459.5 1207.2,459.5 1204.8,463.5 1199.3,463.5 1198.5,464.5 1196.1,464.5 1193.7,465.5 1163.7,465.5 1162.1,467.5 1160,467.5 1159.2,467.5 1146.2,467.5 1145.4,469.5 1143.1,469.5 1142.3,470.5 1137.5,470.5 1135.2,472.5 1115.4,472.5 1114.6,472.5 1112.3,472.5 1111.5,474.5 1109.1,474.5 1094.9,474.5 1094.1,474.5 1090.1,474.5 1087.7,476.5 1074.3,476.5 1073.5,477.5 1071.1,477.5 1070.3,478.5 1064.8,478.5 1064,479.5 1056.9,479.5 1054.5,481.5 1034,481.5 1031.6,482.5 1008.4,482.5 1006.8,483.5 990.6,483.5 989,484.5 966.4,484.5 965.6,486.5 959.9,486.5 959.1,487.5 953.4,487.5 952.6,491.5 950.2,491.5 949.4,494.5 947,494.5 940.5,494.5 939.7,495.5 934,495.5 933.2,496.5 929.2,496.5 928.4,497.5 926.8,497.5 926,498.5 924.3,498.5 922.7,499.5 905.8,499.5 904.1,501.5 887.2,501.5 886.4,503.5 880.7,503.5 879.9,504.5 874.2,504.5 873.4,505.5 869.4,505.5 867.8,506.5 856.5,506.5" fill="#FADE2A" fill-opacity="0.1"/>
<polygon points="856.5,506.5 867.8,506.5 869.4,505.5 873.4,505.5 874.2,504.5 879.9,504.5 880.7,503.5 886.4,503.5 887.2,501.5 904.1,501.5 905.8,499.5 922.7,499.5 924.3,498.5 926,498.5 926.8,497.5 928.4,497.5 929.2,496.5 933.2,496.5 934,495.5 939.7,495.5 940.5,494.5 947,494.5 949.4,494.5 950.2,491.5 952.6,491.5 953.4,487.5 959.1,487.5 959.9,486.5 965.6,486.5 966.4,484.5 989,484.5 990.6,483.5 1006.8,483.5 1008.4,482.5 1031.6,482.5 1034,481.5 1054.5,481.5 1056.9,479.5 1064,479.5 1064.8,478.5 1070.3,478.5 1071.1,477.5 1073.5,477.5 1074.3,476.5 1087.7,476.5 1090.1,474.5 1094.1,474.5 1094.9,474.5 1109.1,474.5 1111.5,474.5 1112.3,472.5 1114.6,472.5 1115.4,472.5 1135.2,472.5 1137.5,470.5 1142.3,470.5 1143.1,469.5 1145.4,469.5 1146.2,467.5 1159.2,467.5 1160,467.5 1162.1,467.5 1163.7,465.5 1193.7,465.5 1196.1,464.5 1198.5,464.5 1199.3,463.5 1204.8,463.5 1207.2,459.5 1209.5,459.5 1210.3,458.5 1302,458.5 1304.4,457.5 1310,457.5 1336.1,457.5 1338.2,457.5 1339,453.5 1350.6,453.5 1352.7,453.5 1353.5,451.5 1357.5,451.5 1358.3,450.5 1374.7,450.5 1376.8,450.5 1377.6,448.5 1382.6,448.5 1383.4,446.5 1388.4,446.5 1389.2,445.5 1400.8,445.5 1403.9,445.5 1404.7,444.5 1407.8,444.5 1408.6,442.5 1438.5,442.5 1440.4,441.5 1453,441.5 1454.6,441.5 1455.4,439.5 1457,439.5 1457.8,437.5 1464.2,437.5 1465,437.5 1478.7,437.5 1481,435.5 1489,435.5 1491.3,434.5 1508.4,434.5 1510.7,431.5 1513.3,431.5 1514.1,429.5 1517.9,429.5 1518.7,427.5 1523.2,427.5 1525.9,427.5 1526.7,424.5 1529.3,424.5 1530.1,422.5 1583.7,422.5 1585.2,422.5 1586,420.5 1587.5,420.5 1588.3,418.5 1590.1,414.5 1598.6,414.5 1600.8,414.5 1601.6,413.5 1601.6,507 856.5,507" fill="#8AB8FF" fill-opacity="0.1"/>
<polyline points="856.5,506.5 867.8,506.5 869.4,505.5 873.4,505.5 874.2,504.5 879.9,504.5 880.7,503.5 886.4,503.5 887.2,501.5 904.1,501.5 905.8,499.5 922.7,499.5 924.3,498.5 926,498.5 926.8,497.5 928.4,497.5 929.2,496.5 933.2,496.5 934,495.5 939.7,495.5 940.5,494.5 947,494.5 949.4,494.5 950.2,491.5 952.6,491.5 953.4,487.5 959.1,487.5 959.9,486.5 965.6,486.5 966.4,484.5 989,484.5 990.6,483.5 1006.8,483.5 1008.4,482.5 1031.6,482.5 1034,481.5 1054.5,481.5 1056.9,479.5 1064,479.5 1064.8,478.5 1070.3,478.5 1071.1,477.5 1073.5,477.5 1074.3,476.5 1087.7,476.5 1090.1,474.5 1094.1,474.5 1094.9,474.5 1109.1,474.5 1111.5,474.5 1112.3,472.5 1114.6,472.5 1115.4,472.5 1135.2,472.5 1137.5,470.5 1142.3,470.5 1143.1,469.5 1145.4,469.5 1146.2,467.5 1159.2,467.5 1160,467.5 1162.1,467.5 1163.7,465.5 1193.7,465.5 1196.1,464.5 1198.5,464.5 1199.3,463.5 1204.8,463.5 1207.2,459.5 1209.5,459.5 1210.3,458.5 1302,458.5 1304.4,457.5 1310,457.5 1336.1,457.5 1338.2,457.5 1339,453.5 1350.6,453.5 1352.7,453.5 1353.5,451.5 1357.5,451.5 1358.3,450.5 1374.7,450.5 1376.8,450.5 1377.6,448.5 1382.6,448.5 1383.4,446.5 1388.4,446.5 1389.2,445.5 1400.8,445.5 1403.9,445.5 1404.7,444.5 1407.8,444.5 1408.6,442.5 1438.5,442.5 1440.4,441.5 1453,441.5 1454.6,441.5 1455.4,439.5 1457,439.5 1457.8,437.5 1464.2,437.5 1465,437.5 1478.7,437.5 1481,435.5 1489,435.5 1491.3,434.5 1508.4,434.5 1510.7,431.5 1513.3,431.5 1514.1,429.5 1517.9,429.5 1518.7,427.5 1523.2,427.5 1525.9,427.5 1526.7,424.5 1529.3,424.5 1530.1,422.5 1583.7,422.5 1585.2,422.5 1586,420.5 1587.5,420.5 1588.3,418.5 1590.1,414.5 1598.6,414.5 1600.8,414.5 1601.6,413.5" fill="none" stroke="#8AB8FF" stroke-width="1" stroke-linejoin="miter"/>
<polyline points="856.5,506.5 862.1,506.5 862.9,505.5 867.8,505.5 870.2,502.5 875.1,502.5 875.9,500.5 881.5,500.5 882.3,499.5 887.2,499.5 888,498.5 903.3,498.5 905.8,496.5 910.6,496.5 911.4,495.5 921.1,495.5 922.7,494.5 924.8,494.5 925.5,493.5 927.6,493.5 928.4,491.5 930.4,491.5 931.2,490.5 933.2,490.5 934,489.5 936.5,489.5 937.2,488.5 939.7,488.5 940.5,487.5 945.4,487.5 946.2,486.5 947.4,486.5 948.2,484.5 949.4,484.5 950.2,481.5 952.6,481.5 953.4,478.5 959.1,478.5 959.9,476.5 963.9,476.5 964.7,474.5 968.8,474.5 969.6,473.5 985.8,473.5 987.4,472.5 1005.2,472.5 1006.8,471.5 1028.5,471.5 1031.6,471.5 1032.4,469.5 1040.3,469.5 1041.1,468.5 1056.9,468.5 1058.5,466.5 1064,466.5 1064.8,464.5 1069.6,464.5 1070.4,463.5 1073.5,463.5 1074.3,462.5 1087.7,462.5 1090.1,462.5 1090.9,460.5 1094.1,460.5 1094.9,459.5 1110.7,459.5 1112.3,458.5 1135.2,458.5 1136.8,456.5 1141.5,456.5 1142.3,455.5 1144.7,455.5 1145.5,452.5 1151,452.5 1151.8,452.5 1155,452.5 1162.1,452.5 1162.9,450.5 1168.4,450.5 1169.2,449.5 1187.4,449.5 1189,448.5 1196.9,448.5 1198.5,446.5 1205.6,446.5 1208,442.5 1211.1,442.5 1211.9,441.5 1226.1,441.5 1227.7,440.5 1248.3,440.5 1249.9,439.5 1302.8,439.5 1305.2,438.5 1319.7,438.5 1321.6,437.5 1337.1,437.5 1339,433.5 1340.6,433.5 1341.4,432.5 1343,432.5 1343.8,431.5 1347.8,431.5 1348.6,430.5 1350.7,430.5 1351.5,429.5 1353.6,429.5 1354.4,428.5 1356.5,428.5 1357.3,427.5 1359.4,427.5 1360.2,426.5 1364.3,426.5 1365.1,425.5 1375.7,425.5 1377.6,422.5 1382.6,422.5 1383.4,421.5 1384.5,421.5 1385.3,420.5 1386.5,420.5 1387.3,419.5 1398.9,419.5 1401,419.5 1401.8,417.5 1405.8,417.5 1406.6,416.5 1408.6,414.5 1425.9,414.5 1427.9,413.5 1438.5,413.5 1440.4,410.5 1453,410.5 1455.9,398.5 1458,398.5 1458.8,392.5 1462.8,392.5 1463.6,391.5 1465,391.5 1466.5,391.5 1467.3,390.5 1468.8,390.5 1469.6,389.5 1474.5,389.5 1475.3,388.5 1480.2,388.5 1481,386.5 1489.3,386.5 1490.1,385.5 1492.7,385.5 1493.5,383.5 1499.6,383.5 1500.4,382.5 1508.4,382.5 1510.2,376.5 1511.4,376.5 1512.2,375.5 1513.3,375.5 1514.1,374.5 1516.7,374.5 1517.5,372.5 1523.9,372.5 1525.5,369.5 1527.8,366.5 1532.7,366.5 1533.5,365.5 1539.6,365.5 1540.4,364.5 1563.2,364.5 1565.5,362.5 1569.2,362.5 1570,361.5 1582.6,361.5 1584.9,359.5 1587.5,359.5 1588.3,356.5 1590.1,351.5 1597.8,351.5 1598.6,351.5 1600.8,351.5 1601.6,350.5" fill="none" stroke="#FADE2A" stroke-width="1" stroke-linejoin="miter"/>
<rect x="23.9" y="263" width="12.3" height="3.2" rx="1.6" fill="#73BF69"/>
<text x="43.7" y="266.9" fill="#c4c5cd" stroke="#c4c5cd" stroke-width="0.2" font-size="11.5">removed_pixels_tokens</text>
<rect x="173.2" y="263" width="12.3" height="3.2" rx="1.6" fill="#FADE2A"/>
<text x="193.3" y="266.9" fill="#c4c5cd" stroke="#c4c5cd" stroke-width="0.2" font-size="11.5">removed_tokens</text>
<rect x="287.1" y="263" width="12.3" height="3.2" rx="1.6" fill="#8AB8FF"/>
<text x="306.6" y="266.9" fill="#c4c5cd" stroke="#c4c5cd" stroke-width="0.2" font-size="11.5">removed_webhooks</text>
<rect x="830.1" y="263" width="12.3" height="3.2" rx="1.6" fill="#8AB8FF"/>
<text x="850.1" y="266.9" fill="#c4c5cd" stroke="#c4c5cd" stroke-width="0.2" font-size="11.5">fail</text>
<rect x="874.3" y="263" width="12.3" height="3.2" rx="1.6" fill="#FADE2A"/>
<text x="894.8" y="266.9" fill="#c4c5cd" stroke="#c4c5cd" stroke-width="0.2" font-size="11.5">success</text>
<rect x="23.9" y="537" width="12.3" height="3.2" rx="1.6" fill="#F2495C"/>
<text x="43.7" y="540.9" fill="#c4c5cd" stroke="#c4c5cd" stroke-width="0.2" font-size="11.5">bot_commands</text>
<rect x="132.1" y="537" width="12.3" height="3.2" rx="1.6" fill="#FADE2A"/>
<text x="151.7" y="540.9" fill="#c4c5cd" stroke="#c4c5cd" stroke-width="0.2" font-size="11.5">help</text>
<rect x="183.4" y="537" width="12.3" height="3.2" rx="1.6" fill="#5794F2"/>
<text x="203.0" y="540.9" fill="#c4c5cd" stroke="#c4c5cd" stroke-width="0.2" font-size="11.5">topical</text>
<rect x="830.1" y="537" width="12.3" height="3.2" rx="1.6" fill="#8AB8FF"/>
<text x="850.1" y="540.9" fill="#c4c5cd" stroke="#c4c5cd" stroke-width="0.2" font-size="11.5">developers</text>
<rect x="916.3" y="537" width="12.3" height="3.2" rx="1.6" fill="#FADE2A"/>
<text x="936.8" y="540.9" fill="#c4c5cd" stroke="#c4c5cd" stroke-width="0.2" font-size="11.5">helpers</text>
</svg></body></html>
